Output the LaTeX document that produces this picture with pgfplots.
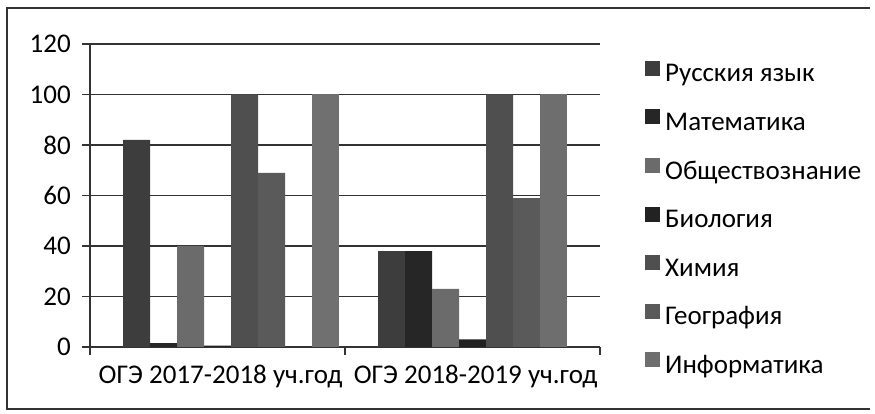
\documentclass[border=0pt]{standalone}
\usepackage{pgfplots}
\pgfplotsset{compat=1.18}
\usepackage{fontspec}
\setmainfont{Carlito}
\definecolor{s1}{HTML}{3D3D3D}
\definecolor{s2}{HTML}{262626}
\definecolor{s3}{HTML}{6B6B6B}
\definecolor{s4}{HTML}{222222}
\definecolor{s5}{HTML}{4F4F4F}
\definecolor{s6}{HTML}{5A5A5A}
\definecolor{s7}{HTML}{6E6E6E}
\definecolor{s8}{HTML}{707070}
\definecolor{ln}{HTML}{333333}
\begin{document}
\begin{tikzpicture}[font=\fontsize{27}{32}\selectfont]
\useasboundingbox (0,0) rectangle (875pt,414pt);
\draw[ln, line width=1.6pt] (870pt,406pt) -- (7pt,406pt) -- (7pt,5pt) -- (870pt,5pt);
\begin{axis}[
  at={(90pt,67pt)}, anchor=south west,
  scale only axis, width=510pt, height=303pt,
  ybar=0pt, bar width=27pt,
  xmin=-0.5, xmax=1.5, ymin=0, ymax=120,
  xtick={0,1},
  xticklabels={ОГЭ 2017-2018 уч.год, ОГЭ 2018-2019 уч.год},
  minor xtick={-0.5,0.5,1.5},
  ytick={0,20,...,120},
  axis x line*=bottom, axis y line*=left,
  axis line style={draw=ln, line width=1.3pt, -},
  ymajorgrids, grid style={draw=ln, line width=1.3pt},
  tick align=outside, major tick length=8pt, minor tick length=8pt,
  major x tick style={draw=none},
  minor x tick style={draw=ln, line width=1.3pt},
  major y tick style={draw=ln, line width=1.3pt},
  /pgf/number format/assume math mode=true,
  yticklabel style={font=\fontsize{27}{32}\selectfont, inner sep=0pt, xshift=-11pt},
  xticklabel style={font=\fontsize{27}{32}\selectfont, inner sep=0pt, yshift=-10pt, xshift=3pt},
  legend style={at={(1.0882,0.945)}, anchor=north west, draw=none, fill=none,
    inner sep=0pt, row sep=21.6pt,
    nodes={inner sep=0pt, text height=18pt, text depth=6pt, font=\fontsize{27}{32}\selectfont},
    /tikz/every odd column/.append style={column sep=5pt}},
  legend cell align=left,
  legend image code/.code={\fill[#1,draw=none] (0pt,0pt) rectangle (15pt,15pt);},
]
\addplot[fill=s1, draw=none] coordinates {(0,82) (1,38)};
\addlegendentry{Русския язык}
\addplot[fill=s2, draw=none] coordinates {(0,1.5) (1,38)};
\addlegendentry{Математика}
\addplot[fill=s3, draw=none] coordinates {(0,40) (1,23)};
\addlegendentry{Обществознание}
\addplot[fill=s4, draw=none] coordinates {(0,0.5) (1,3)};
\addlegendentry{Биология}
\addplot[fill=s5, draw=none] coordinates {(0,100) (1,100)};
\addlegendentry{Химия}
\addplot[fill=s6, draw=none] coordinates {(0,69) (1,59)};
\addlegendentry{География}
\addplot[fill=s7, draw=none] coordinates {(1,100)};
\addlegendentry{Информатика}
\addplot[fill=s8, draw=none, forget plot] coordinates {(0,100)};
\end{axis}
\end{tikzpicture}
\end{document}
